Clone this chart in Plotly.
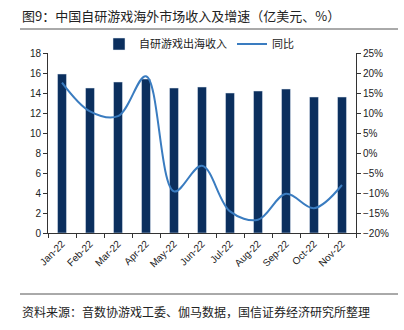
import plotly.graph_objects as go

months = ["Jan-22", "Feb-22", "Mar-22", "Apr-22", "May-22", "Jun-22",
          "Jul-22", "Aug-22", "Sep-22", "Oct-22", "Nov-22"]
revenue = [15.9, 14.5, 15.1, 15.4, 14.5, 14.6, 14.0, 14.2, 14.4, 13.6, 13.6]
yoy = [17.6, 10.4, 9.2, 19.2, -9.6, -3.2, -14.6, -16.7, -10.2, -13.8, -8.0]

title_text = "图9：中国自研游戏海外市场收入及增速（亿美元、%）"
source_text = "资料来源：音数协游戏工委、伽马数据，国信证券经济研究所整理"

L, R, T, B = 48, 48, 53, 97
W, H = 404, 330
pw, ph = W - L - R, H - T - B

def px(x):
    return (x - L) / pw

def py(y):
    return (H - B - y) / ph

fig = go.Figure()
fig.add_trace(go.Bar(x=months, y=revenue, name="自研游戏出海收入",
                     marker_color="#0b2f5e", yaxis="y"))
fig.add_trace(go.Scatter(x=months, y=yoy, name="同比", mode="lines",
                         line=dict(color="#3a7cc0", width=2, shape="spline", smoothing=1.0),
                         yaxis="y2"))

tickfont = dict(family="Liberation Sans, Arial", size=10, color="#222")
fig.update_layout(
    width=W, height=H,
    margin=dict(l=L, r=R, t=T, b=B),
    paper_bgcolor="white", plot_bgcolor="white",
    bargap=0.68,
    showlegend=True,
    legend=dict(orientation="h", x=px(199), xanchor="center", y=py(44), yanchor="middle",
                font=dict(family="Noto Sans CJK SC", size=11, color="#222"),
                bgcolor="rgba(0,0,0,0)"),
    xaxis=dict(showline=True, linecolor="#333", linewidth=1, ticks="outside",
               ticklen=4, tickcolor="#333", tickson="boundaries", tickangle=-45,
               tickfont=tickfont, showgrid=False),
    yaxis=dict(range=[0, 18], dtick=2, showline=True, linecolor="#333", linewidth=1,
               ticks="outside", ticklen=4, tickcolor="#333", tickfont=tickfont,
               showgrid=False, zeroline=False),
    yaxis2=dict(range=[-20, 25], dtick=5, ticksuffix="%", overlaying="y", side="right",
                showline=True, linecolor="#333", linewidth=1, ticks="outside",
                ticklen=4, tickcolor="#333", tickfont=tickfont, showgrid=False,
                zeroline=False),
    annotations=[
        dict(text=title_text, xref="paper", yref="paper", x=px(20), y=py(15),
             xanchor="left", yanchor="middle", showarrow=False,
             font=dict(family="Noto Sans CJK SC", size=13, color="#222")),
        dict(text=source_text, xref="paper", yref="paper", x=px(20), y=py(311),
             xanchor="left", yanchor="middle", showarrow=False,
             font=dict(family="Noto Sans CJK SC", size=12, color="#222")),
    ],
    shapes=[
        dict(type="line", xref="paper", yref="paper", x0=px(20), x1=px(398),
             y0=py(29), y1=py(29), line=dict(color="#555", width=1)),
        dict(type="line", xref="paper", yref="paper", x0=px(20), x1=px(398),
             y0=py(294), y1=py(294), line=dict(color="#555", width=1)),
    ],
)

fig.write_html("out.html")
